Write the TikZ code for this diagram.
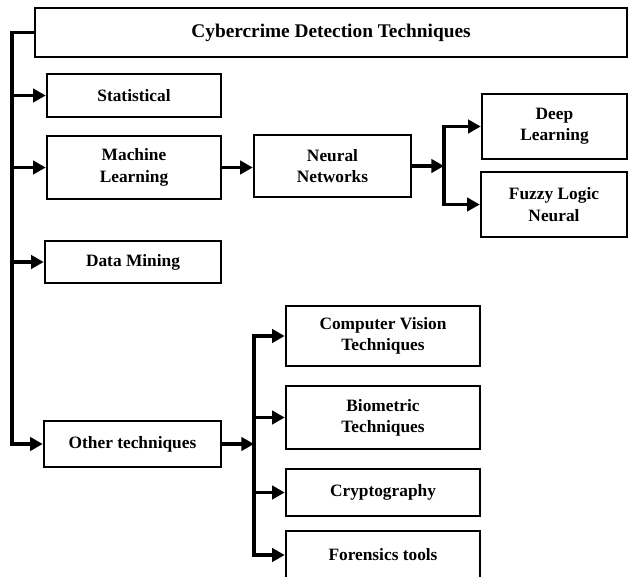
\documentclass[tikz,border=0pt]{standalone}
\usepackage{fontspec}
\setmainfont{Liberation Serif}
\usetikzlibrary{arrows.meta}

\begin{document}
\begin{tikzpicture}[x=0.75pt,y=0.75pt,yscale=-1,xscale=1,
  box/.style={draw, line width=1.9pt, inner sep=2pt, align=center, font=\fontsize{13}{16}\selectfont\bfseries},
  conn/.style={line width=2.7pt, -{Triangle[length=9.5pt,width=10pt]}},
  fork/.style={line width=2.7pt, {Triangle[length=9.5pt,width=10pt]}-{Triangle[length=9.5pt,width=10pt]}}]
\useasboundingbox (0,0) rectangle (628,577);

%Shape: Rectangle [title]
\node[box, minimum width=444pt, minimum height=36.75pt, font=\fontsize{14.5}{17}\selectfont\bfseries] (title) at (331,32.5) {Cybercrime Detection Techniques};

%Shape: Rectangle [left column]
\node[box, minimum width=130.5pt, minimum height=32.25pt] (stat) at (134,95.5) {Statistical};
\node[box, minimum width=130.5pt, minimum height=47.25pt] (ml) at (134,167.5) {Machine\\Learning};
\node[box, minimum width=132pt, minimum height=31.5pt] (dm) at (133,262) {Data Mining};
\node[box, minimum width=132.75pt, minimum height=34.5pt] (other) at (132.5,444) {Other techniques};

%Shape: Rectangle [neural branch]
\node[box, minimum width=117.75pt, minimum height=46.5pt] (nn) at (332.5,166) {Neural\\Networks};
\node[box, minimum width=108.75pt, minimum height=48.75pt] (deep) at (554.5,126.5) {Deep\\Learning};
\node[box, minimum width=109.5pt, minimum height=48.75pt] (fuzzy) at (554,204.5) {Fuzzy Logic\\Neural};

%Shape: Rectangle [other branch]
\node[box, minimum width=145.5pt, minimum height=45pt] (cv) at (383,336) {Computer Vision\\Techniques};
\node[box, minimum width=145.5pt, minimum height=47.25pt] (bio) at (383,417.5) {Biometric\\Techniques};
\node[box, minimum width=145.5pt, minimum height=35.25pt] (crypto) at (383,492.5) {Cryptography};
\node[box, minimum width=145.5pt, minimum height=36pt] (foren) at (383,555) {Forensics tools};

% fork points
\coordinate (trunk) at (12,444);
\coordinate (nnfork) at (444,166);
\coordinate (ofork) at (254,444);

% main trunk
\draw[conn] (title.west) -| (trunk) -- (other.west);
\foreach \n in {stat,ml,dm}
  \draw[conn] (trunk |- \n.west) -- (\n.west);

% neural networks
\draw[conn] (ml.east) -- (ml.east -| nn.west);
\draw[conn] (nn.east) -- (nnfork);
\draw[fork] (deep.west) -| (nnfork) |- (fuzzy.west);

% other techniques
\draw[conn] (other.east) -- (ofork);
\draw[fork] (cv.west) -| (ofork) |- (foren.west);
\foreach \n in {bio,crypto}
  \draw[conn] (ofork |- \n.west) -- (\n.west);

\end{tikzpicture}
\end{document}
